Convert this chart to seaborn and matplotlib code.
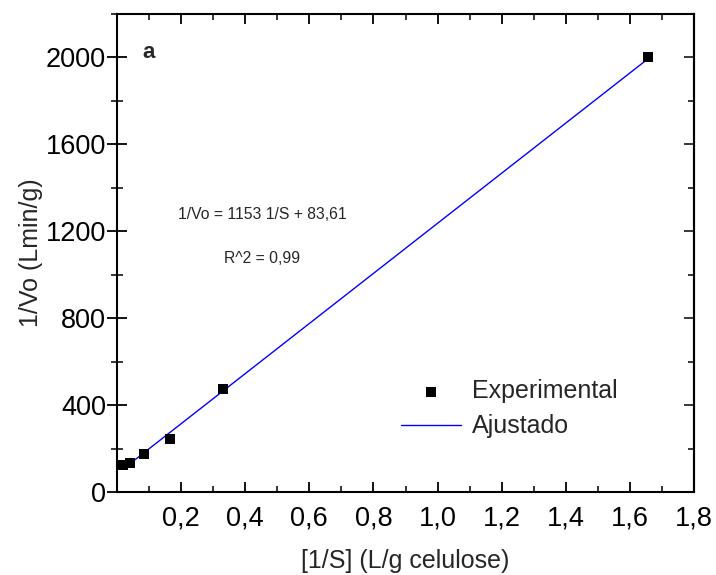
import matplotlib
matplotlib.use("Agg")
import matplotlib.pyplot as plt
import seaborn as sns
import pandas as pd
from matplotlib.ticker import MultipleLocator, FixedLocator, FuncFormatter

# data
inv_s = [0.020, 0.040, 0.083, 0.165, 0.331, 1.655]
inv_vo = [124, 133, 175, 244, 474, 2000]
fit_x = [0.022, 1.655]
fit_y = [109, 1992]
x_ticks = [0.2, 0.4, 0.6, 0.8, 1.0, 1.2, 1.4, 1.6, 1.8]
y_ticks = [0, 400, 800, 1200, 1600, 2000]

sns.set_style("ticks")
plt.rcParams['font.family'] = ['Liberation Sans', 'DejaVu Sans']

fig = plt.figure(figsize=(7.16, 5.75), dpi=100)
ax = fig.add_axes([117/716, 1-492/575, (694-117)/716, (492-14)/575])

exp_df = pd.DataFrame({"x": inv_s, "y": inv_vo})
fit_df = pd.DataFrame({"x": fit_x, "y": fit_y})

sns.lineplot(data=fit_df, x="x", y="y", ax=ax, color="#0000ff", linewidth=1.0,
             label="Ajustado", zorder=2)
sns.scatterplot(data=exp_df, x="x", y="y", ax=ax, marker="s", s=45, color="black",
                edgecolor="black", linewidth=0, label="Experimental", zorder=3)

ax.set_xlim(0, 1.8)
ax.set_ylim(0, 2200)
ax.xaxis.set_major_locator(FixedLocator(x_ticks))
ax.xaxis.set_minor_locator(MultipleLocator(0.1))
ax.yaxis.set_major_locator(FixedLocator(y_ticks))
ax.yaxis.set_minor_locator(MultipleLocator(200))
ax.xaxis.set_major_formatter(FuncFormatter(lambda v, p: f"{v:.1f}".replace(".", ",")))
ax.yaxis.set_major_formatter(FuncFormatter(lambda v, p: f"{int(round(v))}"))

for s in ax.spines.values():
    s.set_linewidth(1.5)
    s.set_color("black")
    s.set_visible(True)

ax.tick_params(axis="x", which="major", direction="in", length=7, width=1.3,
               top=True, bottom=True, labelsize=19.5, pad=10, colors="black")
ax.tick_params(axis="x", which="minor", direction="in", length=4, width=1.3,
               top=True, bottom=True)
ax.tick_params(axis="y", which="major", direction="inout", length=14, width=1.3,
               left=True, right=False, labelsize=19.5, pad=1.0, colors="black")
ax.tick_params(axis="y", which="minor", direction="inout", length=8, width=1.3,
               left=True, right=False)
# right side inward ticks
ax2 = ax.secondary_yaxis("right")
ax2.yaxis.set_major_locator(FixedLocator(y_ticks))
ax2.yaxis.set_minor_locator(MultipleLocator(200))
ax2.tick_params(axis="y", which="major", direction="in", length=7, width=1.3, labelright=False)
ax2.tick_params(axis="y", which="minor", direction="in", length=4, width=1.3)
ax2.spines["right"].set_linewidth(1.5)

ax.set_xlabel("[1/S] (L/g celulose)", fontsize=18, labelpad=12)
ax.set_ylabel("1/Vo (Lmin/g)", fontsize=18, labelpad=2)

ax.text(0.097, 2023, "a", fontsize=16, fontweight="bold", ha="center", va="center")
ax.text(0.19, 1278, "1/Vo = 1153 1/S + 83,61", fontsize=11.3, ha="left", va="center")
ax.text(0.333, 1076, "R^2 = 0,99", fontsize=11.3, ha="left", va="center")

handles, labels = ax.get_legend_handles_labels()
order = [labels.index("Experimental"), labels.index("Ajustado")]
ax.legend([handles[i] for i in order], [labels[i] for i in order],
          loc="center left", bbox_to_anchor=(0.475, 0.174), frameon=False,
          fontsize=18, handlelength=2.4, handletextpad=0.45, labelspacing=0.45,
          borderaxespad=0)

fig.savefig("out.png", dpi=100)
